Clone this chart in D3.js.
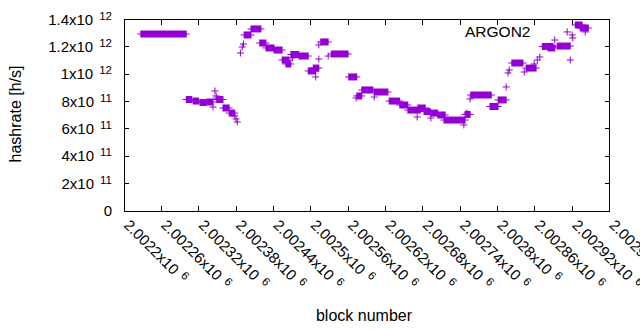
<!DOCTYPE html>
<html>
<head>
<meta charset="utf-8">
<script src="https://cdn.jsdelivr.net/npm/d3@7"></script>
<style>
  body { margin: 0; background: #fff; }
  text { font-family: "Liberation Sans", Arial, sans-serif; fill: #000; }
</style>
</head>
<body>
<div id="chart"></div>
<script>
// runs of blocks with the same hashrate (drawn as a solid band of "+" marks)
const runStart = [2002227, 2002300, 2002311, 2002322, 2002333, 2002349, 2002359, 2002369,
  2002393, 2002404, 2002418, 2002428, 2002441, 2002454, 2002460, 2002468, 2002481,
  2002496, 2002504, 2002516, 2002533, 2002561, 2002574, 2002582, 2002602, 2002626,
  2002643, 2002656, 2002672, 2002682, 2002692, 2002704, 2002714, 2002748, 2002757,
  2002788, 2002801, 2002823, 2002846, 2002872, 2002881, 2002896, 2002925, 2002933];
const runEnd = [2002300, 2002309, 2002320, 2002332, 2002343, 2002359, 2002369, 2002378,
  2002404, 2002420, 2002428, 2002441, 2002454, 2002465, 2002468, 2002481, 2002496,
  2002508, 2002513, 2002528, 2002560, 2002574, 2002582, 2002600, 2002624, 2002643,
  2002656, 2002676, 2002684, 2002692, 2002704, 2002716, 2002748, 2002756, 2002790,
  2002801, 2002814, 2002841, 2002862, 2002889, 2002892, 2002917, 2002936, 2002946];
const runRate = [1294e9, 815e9, 804e9, 793e9, 797e9, 815e9, 753e9, 716e9,
  1287e9, 1331e9, 1228e9, 1192e9, 1177e9, 1104e9, 1075e9, 1144e9, 1133e9,
  1024e9, 1045e9, 1236e9, 1148e9, 980e9, 841e9, 885e9, 870e9, 804e9,
  775e9, 738e9, 753e9, 727e9, 716e9, 702e9, 665e9, 706e9, 848e9,
  764e9, 812e9, 1082e9, 1045e9, 1203e9, 1192e9, 1206e9, 1360e9, 1338e9];

// isolated blocks
const pointBlock = [2002343, 2002346, 2002348, 2002349, 2002378, 2002380, 2002382,
  2002387, 2002390, 2002392, 2002471, 2002513, 2002508, 2002513, 2002528, 2002573,
  2002602, 2002671, 2002693, 2002746, 2002751, 2002756, 2002814, 2002817, 2002819,
  2002843, 2002859, 2002864, 2002868, 2002892, 2002917, 2002912, 2002920, 2002921, 2002941];
const pointRate = [760e9, 877e9, 841e9, 826e9, 695e9, 673e9, 651e9,
  1155e9, 1199e9, 1221e9, 1119e9, 1111e9, 980e9, 1214e9, 1133e9, 826e9,
  833e9, 687e9, 680e9, 629e9, 716e9, 819e9, 907e9, 1009e9, 1031e9,
  1016e9, 1075e9, 1104e9, 1126e9, 1250e9, 1104e9, 1309e9, 1287e9, 1265e9, 1309e9];

const xTicks = [2002200, 2002260, 2002320, 2002380, 2002440, 2002500, 2002560,
  2002620, 2002680, 2002740, 2002800, 2002860, 2002920, 2002980];
const yTicks = [0, 2e11, 4e11, 6e11, 8e11, 1e12, 1.2e12, 1.4e12];

const seriesName = "ARGON2";
const color = "#9400d3";

const W = 640, H = 330;
const pLeft = 124, pRight = 609.5, pTop = 19.5, pBottom = 211;
const arm = 3.5;

const svg = d3.select("#chart").append("svg")
  .attr("width", W).attr("height", H);

const x = d3.scaleLinear().domain([2002200, 2002980]).range([pLeft, pRight]);
const y = d3.scaleLinear().domain([0, 1.4e12]).range([pBottom, pTop]);

// "1.4x10^12" style labels
const sci = v => {
  if (v === 0) return { m: "0", e: null };
  const e = Math.floor(Math.log10(v) + 1e-9);
  let m = (v / Math.pow(10, e)).toFixed(5).replace(/0+$/, "").replace(/\.$/, "");
  return { m: m + "x10", e: String(e) };
};

const addSci = (sel, v) => {
  const s = sci(v);
  sel.append("tspan").text(s.m);
  if (s.e) sel.append("tspan").attr("dx", 6).attr("dy", -5)
    .style("font-size", "11.5px").text(s.e);
};

// ticks (mirrored on all sides, pointing in)
const tl = 5;
const g = svg.append("g").attr("stroke", "#000").attr("stroke-width", 1)
  .attr("shape-rendering", "crispEdges");
yTicks.forEach(v => {
  g.append("line").attr("x1", pLeft).attr("x2", pLeft + tl).attr("y1", y(v)).attr("y2", y(v));
  g.append("line").attr("x1", pRight).attr("x2", pRight - tl).attr("y1", y(v)).attr("y2", y(v));
});
xTicks.forEach(v => {
  g.append("line").attr("x1", x(v)).attr("x2", x(v)).attr("y1", pBottom).attr("y2", pBottom - tl);
  g.append("line").attr("x1", x(v)).attr("x2", x(v)).attr("y1", pTop).attr("y2", pTop + tl);
});
g.append("rect").attr("x", pLeft).attr("y", pTop)
  .attr("width", pRight - pLeft).attr("height", pBottom - pTop).attr("fill", "none");

// y tick labels
yTicks.forEach(v => {
  const t = svg.append("text").attr("x", 112).attr("y", y(v) + 5)
    .attr("text-anchor", "end").style("font-size", "15px");
  addSci(t, v);
});

// x tick labels, rotated
xTicks.forEach(v => {
  const t = svg.append("text")
    .attr("transform", `translate(${x(v) - 1},${226}) rotate(45)`)
    .style("font-size", "15px");
  addSci(t, v);
});

// axis titles
svg.append("text").attr("transform", "translate(21,114) rotate(-90)")
  .attr("text-anchor", "middle").style("font-size", "16px").text("hashrate [h/s]");
svg.append("text").attr("x", 364).attr("y", 321)
  .attr("text-anchor", "middle").style("font-size", "16px").text("block number");

svg.append("text").attr("x", 465).attr("y", 37)
  .style("font-size", "15.5px").text(seriesName);

// data
const runs = runStart.map((s, i) => ({ s, e: runEnd[i], v: runRate[i] }));
const pts = pointBlock.map((b, i) => ({ b, v: pointRate[i] }));
const data = svg.append("g");

data.selectAll("rect.run").data(runs).enter().append("rect")
  .attr("class", "run")
  .attr("x", d => x(d.s) - 0.5)
  .attr("width", d => x(d.e) - x(d.s) + 1)
  .attr("y", d => y(d.v) - arm)
  .attr("height", arm * 2)
  .attr("fill", color);
data.selectAll("line.run").data(runs).enter().append("line")
  .attr("class", "run")
  .attr("x1", d => x(d.s) - arm).attr("x2", d => x(d.e) + arm)
  .attr("y1", d => y(d.v)).attr("y2", d => y(d.v))
  .attr("stroke", color).attr("stroke-width", 1);

data.selectAll("path.pt").data(pts).enter().append("path")
  .attr("class", "pt")
  .attr("d", d => {
    const px = x(d.b), py = y(d.v);
    return `M${px - arm},${py}H${px + arm}M${px},${py - arm}V${py + arm}`;
  })
  .attr("fill", "none").attr("stroke", color).attr("stroke-width", 1);
</script>
</body>
</html>
